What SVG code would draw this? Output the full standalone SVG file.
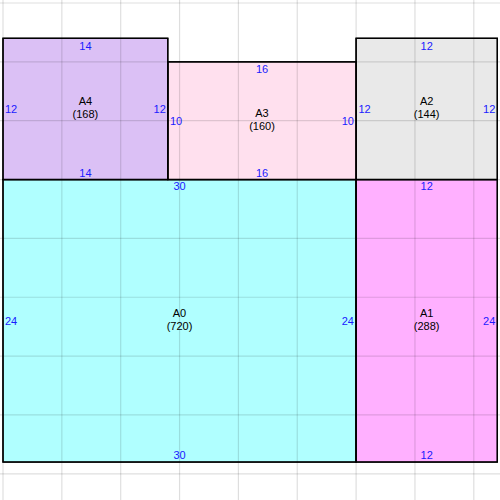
<svg xmlns="http://www.w3.org/2000/svg" width="500" height="500" viewBox="0 0 500 500">
<style>
.box{stroke:#000;stroke-width:1.3}
.grid line{stroke:#000;stroke-opacity:0.13;stroke-width:1.2}
text{font-family:"Liberation Sans",Arial,sans-serif;font-size:11px}
.name{fill:#000;text-anchor:middle}
.dim{fill:#1a1aff}
.c{text-anchor:middle}
.e{text-anchor:end}
</style>
<rect width="500" height="500" fill="#fff"/>
<g id="A0">
<rect class="box" x="3" y="179.55" width="353.1" height="282.5" fill="#b0ffff"/>
</g>
<g id="A1">
<rect class="box" x="356.1" y="179.55" width="141.2" height="282.5" fill="#ffb0ff"/>
</g>
<g id="A2">
<rect class="box" x="356.1" y="38.3" width="141.2" height="141.25" fill="#e9e9e9"/>
</g>
<g id="A3">
<rect class="box" x="167.8" y="61.85" width="188.3" height="117.7" fill="#ffe0ee"/>
</g>
<g id="A4">
<rect class="box" x="3" y="38.3" width="164.8" height="141.25" fill="#dbc0f5"/>
</g>
<g class="grid">
<line x1="3" y1="0" x2="3" y2="500"/>
<line x1="61.85" y1="0" x2="61.85" y2="500"/>
<line x1="120.7" y1="0" x2="120.7" y2="500"/>
<line x1="179.55" y1="0" x2="179.55" y2="500"/>
<line x1="238.4" y1="0" x2="238.4" y2="500"/>
<line x1="297.25" y1="0" x2="297.25" y2="500"/>
<line x1="356.1" y1="0" x2="356.1" y2="500"/>
<line x1="414.95" y1="0" x2="414.95" y2="500"/>
<line x1="473.8" y1="0" x2="473.8" y2="500"/>
<line x1="0" y1="3" x2="500" y2="3"/>
<line x1="0" y1="61.85" x2="500" y2="61.85"/>
<line x1="0" y1="120.7" x2="500" y2="120.7"/>
<line x1="0" y1="179.55" x2="500" y2="179.55"/>
<line x1="0" y1="238.4" x2="500" y2="238.4"/>
<line x1="0" y1="297.25" x2="500" y2="297.25"/>
<line x1="0" y1="356.1" x2="500" y2="356.1"/>
<line x1="0" y1="414.95" x2="500" y2="414.95"/>
<line x1="0" y1="473.8" x2="500" y2="473.8"/>
</g>
<g fill="none" stroke="#000" stroke-width="1.3">
<rect x="3" y="179.55" width="353.1" height="282.5"/>
<rect x="356.1" y="179.55" width="141.2" height="282.5"/>
<rect x="356.1" y="38.3" width="141.2" height="141.25"/>
<rect x="167.8" y="61.85" width="188.3" height="117.7"/>
<rect x="3" y="38.3" width="164.8" height="141.25"/>
</g>
<g id="labels-A0">
<text class="name" x="179.5" y="317">A0</text>
<text class="name" x="179.5" y="330">(720)</text>
<text class="dim c" x="179.5" y="190">30</text>
<text class="dim c" x="179.5" y="459">30</text>
<text class="dim" x="5" y="325">24</text>
<text class="dim e" x="354" y="325">24</text>
</g>
<g id="labels-A1">
<text class="name" x="426.7" y="317">A1</text>
<text class="name" x="426.7" y="330">(288)</text>
<text class="dim c" x="426.7" y="190">12</text>
<text class="dim c" x="426.7" y="459">12</text>
<text class="dim e" x="495.3" y="325">24</text>
</g>
<g id="labels-A2">
<text class="name" x="426.7" y="105">A2</text>
<text class="name" x="426.7" y="118">(144)</text>
<text class="dim c" x="426.7" y="49.5">12</text>
<text class="dim" x="358.5" y="113">12</text>
<text class="dim e" x="495.3" y="113">12</text>
</g>
<g id="labels-A3">
<text class="name" x="262" y="116.7">A3</text>
<text class="name" x="262" y="129.7">(160)</text>
<text class="dim c" x="262" y="73">16</text>
<text class="dim c" x="262" y="177">16</text>
<text class="dim" x="170" y="124.7">10</text>
<text class="dim e" x="354" y="124.7">10</text>
</g>
<g id="labels-A4">
<text class="name" x="85.4" y="105">A4</text>
<text class="name" x="85.4" y="118">(168)</text>
<text class="dim c" x="85.4" y="49.5">14</text>
<text class="dim c" x="85.4" y="177">14</text>
<text class="dim" x="5" y="113">12</text>
<text class="dim e" x="165.8" y="113">12</text>
</g>
</svg>
